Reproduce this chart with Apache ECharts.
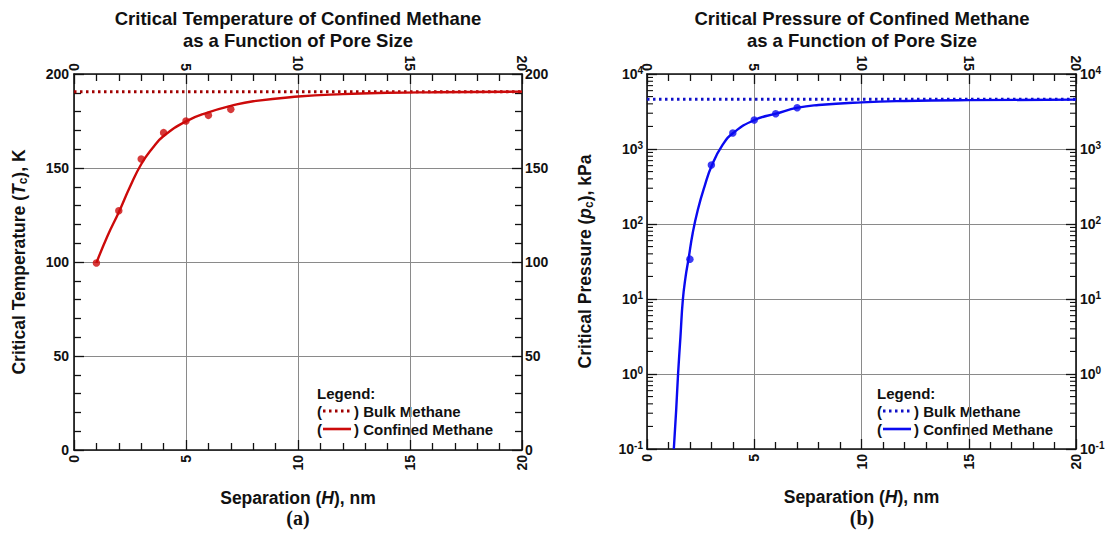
<!DOCTYPE html>
<html>
<head>
<meta charset="utf-8">
<script src="https://cdn.jsdelivr.net/npm/echarts@6/dist/echarts.min.js"></script>
<style>
  html, body { margin: 0; padding: 0; background: #fff; }
  #chart { width: 1110px; height: 533px; }
</style>
</head>
<body>
<div id="chart"></div>
<script>
// Pore separation (nm) where simulated critical points were computed
const poreH = [1, 2, 3, 4, 5, 6, 7];
const poreHp = [2, 3, 4, 5, 6, 7];

// Simulated critical temperature (K) and pressure (kPa) of confined methane
const tcConfined = [99.5, 127.3, 154.8, 168.8, 175.0, 178.0, 181.2];
const pcConfined = [34, 611, 1636, 2438, 2958, 3556];

// Bulk methane critical point
const tcBulk = 190.6;
const pcBulk = 4599;

// Fitted correlation curves (sampled along the fit)
const fitHT = [1, 1.5, 2, 2.5, 3, 3.5, 4, 5, 6, 7, 8, 10, 12, 14, 16, 20];
const fitT  = [99.5, 114, 126.5, 140, 152, 160.5, 167, 174.8, 179.6, 183, 185.5, 188, 189.3, 190, 190.3, 190.6];
const fitHP = [1.25, 1.36, 1.45, 1.56, 1.67, 1.8, 1.93, 2.13, 2.37, 2.68, 3.03, 3.53, 4.02, 5.01, 6.02, 7.03, 8, 10, 12, 15, 20];
const fitP  = [0.1, 0.33, 1.02, 3.15, 9.7, 19.9, 33.3, 75.5, 155, 316, 611, 1141, 1636, 2438, 2958, 3556, 3865, 4190, 4365, 4480, 4550];

// Axis ranges and tick spacing
const xRange = [0, 20];
const xStep = 5;
const tRange = [0, 200];
const tStep = 50;
const pRange = [0.1, 10000];

const FONT = '"Liberation Sans", Arial, Helvetica, sans-serif';
const RED = '#cc0a0a';
const RED_DARK = '#a00000';
const BLUE = '#0a0af0';
const BLUE_DARK = '#1010c8';
const GRIDC = '#8a8a8a';

// minor ticks of the log axis: 2..9 within each decade
const logMinor = [];
for (let e = -1; e < 4; e++) {
  for (let m = 2; m <= 9; m++) logMinor.push(m * Math.pow(10, e));
}

const zip = (a, b) => a.map((v, i) => [v, b[i]]);

const labelStyle = { fontFamily: FONT, fontWeight: 'bold', fontSize: 14, color: '#111' };
const axisLine = { show: true, onZero: false, lineStyle: { color: '#111', width: 1.6 } };
const majorTick = { show: true, inside: true, length: 10, lineStyle: { color: '#111', width: 1.3 } };
const minorTick = { show: true, splitNumber: 5, length: 7, lineStyle: { color: '#111', width: 1.3 } };
const splitLine = { show: true, lineStyle: { color: GRIDC, width: 1 } };

function xAxisPair(gridIndex) {
  const base = {
    type: 'value', gridIndex, min: xRange[0], max: xRange[1], interval: xStep,
    axisLine, axisTick: majorTick, minorTick
  };
  return [
    Object.assign({}, base, {
      position: 'bottom', splitLine,
      axisLabel: Object.assign({ rotate: 90, margin: 5 }, labelStyle),
      name: '{n|Separation (}{i|H}{n|), nm}',
      nameLocation: 'middle', nameGap: 39,
      nameTextStyle: {
        rich: {
          n: { fontFamily: FONT, fontWeight: 'bold', fontSize: 17.5, color: '#111' },
          i: { fontFamily: FONT, fontWeight: 'bold', fontStyle: 'italic', fontSize: 17.5, color: '#111' }
        }
      }
    }),
    Object.assign({}, base, {
      position: 'top', splitLine: { show: false },
      axisLabel: Object.assign({ rotate: 90, margin: 3 }, labelStyle)
    })
  ];
}

function yName(pre, sym, post) {
  return '{n|' + pre + '}{i|' + sym + '}{s|c}{n|' + post + '}';
}
const yNameRich = {
  n: { fontFamily: FONT, fontWeight: 'bold', fontSize: 17.5, color: '#111', lineHeight: 21 },
  i: { fontFamily: FONT, fontWeight: 'bold', fontStyle: 'italic', fontSize: 17.5, color: '#111', lineHeight: 21 },
  s: { fontFamily: FONT, fontWeight: 'bold', fontSize: 12, color: '#111', lineHeight: 8, verticalAlign: 'bottom' }
};

const powRich = {
  b: { fontFamily: FONT, fontWeight: 'bold', fontSize: 14, color: '#111', lineHeight: 18 },
  e: { fontFamily: FONT, fontWeight: 'bold', fontSize: 10, color: '#111', lineHeight: 8, verticalAlign: 'top' }
};
const powFormatter = v => '{b|10}{e|' + Math.round(Math.log10(v)) + '}';

const chart = echarts.init(document.getElementById('chart'), null, { renderer: 'svg' });

chart.setOption({
  animation: false,
  backgroundColor: '#fff',
  grid: [
    { left: 74, top: 74, width: 448, height: 376, containLabel: false },
    { left: 647, top: 74, width: 429, height: 375, containLabel: false }
  ],
  xAxis: [].concat(xAxisPair(0), xAxisPair(1)),
  yAxis: [
    {
      type: 'value', gridIndex: 0, position: 'left', min: tRange[0], max: tRange[1], interval: tStep,
      axisLine, axisTick: majorTick, minorTick, splitLine,
      axisLabel: Object.assign({ margin: 5 }, labelStyle),
      name: yName('Critical Temperature (', 'T', '), K'),
      nameLocation: 'middle', nameGap: 45, nameRotate: 90,
      nameTextStyle: { rich: yNameRich }
    },
    {
      type: 'value', gridIndex: 0, position: 'right', min: tRange[0], max: tRange[1], interval: tStep,
      axisLine, axisTick: majorTick, minorTick, splitLine: { show: false },
      axisLabel: Object.assign({ margin: 3 }, labelStyle)
    },
    {
      type: 'log', logBase: 10, gridIndex: 1, position: 'left', min: pRange[0], max: pRange[1],
      axisLine, axisTick: majorTick, minorTick: { show: false }, splitLine,
      axisLabel: { margin: 4, formatter: powFormatter, rich: powRich },
      name: yName('Critical Pressure (', 'p', '), kPa'),
      nameLocation: 'middle', nameGap: 52, nameRotate: 90,
      nameTextStyle: { rich: yNameRich }
    },
    {
      type: 'log', logBase: 10, gridIndex: 1, position: 'right', min: pRange[0], max: pRange[1],
      axisLine, axisTick: majorTick, minorTick: { show: false }, splitLine: { show: false },
      axisLabel: { margin: 4, formatter: powFormatter, rich: powRich }
    }
  ],
  series: [
    {
      name: 'Bulk Methane', type: 'line', xAxisIndex: 0, yAxisIndex: 0,
      data: [[xRange[0], tcBulk], [xRange[1], tcBulk]], symbol: 'none', z: 3,
      lineStyle: { color: RED_DARK, width: 3, type: [2.5, 3.5] }
    },
    {
      name: 'Confined Methane', type: 'line', xAxisIndex: 0, yAxisIndex: 0,
      data: zip(fitHT, fitT), symbol: 'none', smooth: 0.5, z: 4,
      lineStyle: { color: RED, width: 2.4 }
    },
    {
      type: 'scatter', xAxisIndex: 0, yAxisIndex: 0, data: zip(poreH, tcConfined),
      symbol: 'circle', symbolSize: 7.5, itemStyle: { color: RED }, z: 5
    },
    {
      name: 'Bulk Methane', type: 'line', xAxisIndex: 2, yAxisIndex: 2,
      data: [[xRange[0], pcBulk], [xRange[1], pcBulk]], symbol: 'none', z: 3,
      lineStyle: { color: BLUE_DARK, width: 3, type: [2.5, 3.5] }
    },
    {
      name: 'Confined Methane', type: 'line', xAxisIndex: 2, yAxisIndex: 2,
      data: zip(fitHP, fitP), symbol: 'none', smooth: 0.5, z: 4,
      lineStyle: { color: BLUE, width: 2.4 }
    },
    {
      type: 'scatter', xAxisIndex: 2, yAxisIndex: 2, data: zip(poreHp, pcConfined),
      symbol: 'circle', symbolSize: 7.5, itemStyle: { color: BLUE }, z: 5
    },
    {
      // log-spaced minor ticks on both vertical edges of the pressure panel
      type: 'custom', xAxisIndex: 2, yAxisIndex: 2, silent: true, z: 6,
      data: logMinor.map(v => [xRange[0], v]),
      renderItem: function (params, api) {
        const v = api.value(1);
        const l = api.coord([xRange[0], v]);
        const r = api.coord([xRange[1], v]);
        const len = 6;
        return {
          type: 'group',
          children: [
            { type: 'line', shape: { x1: l[0], y1: l[1], x2: l[0] + len, y2: l[1] }, style: { stroke: '#111', lineWidth: 1.1 } },
            { type: 'line', shape: { x1: r[0], y1: r[1], x2: r[0] - len, y2: r[1] }, style: { stroke: '#111', lineWidth: 1.1 } }
          ]
        };
      }
    }
  ],
  graphic: [
    // panel titles
    { type: 'text', x: 298, y: 7, style: { text: 'Critical Temperature of Confined Methane\nas a Function of Pore Size', textAlign: 'center', textVerticalAlign: 'top', fontFamily: FONT, fontWeight: 'bold', fontSize: 18.5, lineHeight: 22, fill: '#111' } },
    { type: 'text', x: 862, y: 7, style: { text: 'Critical Pressure of Confined Methane\nas a Function of Pore Size', textAlign: 'center', textVerticalAlign: 'top', fontFamily: FONT, fontWeight: 'bold', fontSize: 18.5, lineHeight: 22, fill: '#111' } },
    // panel captions
    { type: 'text', x: 298, y: 518, style: { text: '(a)', textAlign: 'center', textVerticalAlign: 'middle', fontFamily: '"Liberation Serif", "Times New Roman", serif', fontWeight: 'bold', fontSize: 20, fill: '#111' } },
    { type: 'text', x: 862, y: 518, style: { text: '(b)', textAlign: 'center', textVerticalAlign: 'middle', fontFamily: '"Liberation Serif", "Times New Roman", serif', fontWeight: 'bold', fontSize: 20, fill: '#111' } },

    // legend, temperature panel
    { type: 'text', x: 317, y: 393, style: { text: 'Legend:', textVerticalAlign: 'middle', fontFamily: FONT, fontWeight: 'bold', fontSize: 15, fill: '#111' } },
    { type: 'text', x: 317, y: 411, style: { text: '(', textVerticalAlign: 'middle', fontFamily: FONT, fontWeight: 'bold', fontSize: 15, fill: '#111' } },
    { type: 'line', shape: { x1: 323, y1: 411, x2: 350, y2: 411 }, style: { stroke: RED_DARK, lineWidth: 3, lineDash: [2.5, 3.5] } },
    { type: 'text', x: 354, y: 411, style: { text: ') Bulk Methane', textVerticalAlign: 'middle', fontFamily: FONT, fontWeight: 'bold', fontSize: 15, fill: '#111' } },
    { type: 'text', x: 317, y: 429, style: { text: '(', textVerticalAlign: 'middle', fontFamily: FONT, fontWeight: 'bold', fontSize: 15, fill: '#111' } },
    { type: 'line', shape: { x1: 323, y1: 429, x2: 351, y2: 429 }, style: { stroke: RED, lineWidth: 2.6 } },
    { type: 'text', x: 354, y: 429, style: { text: ') Confined Methane', textVerticalAlign: 'middle', fontFamily: FONT, fontWeight: 'bold', fontSize: 15, fill: '#111' } },

    // legend, pressure panel
    { type: 'text', x: 877, y: 393, style: { text: 'Legend:', textVerticalAlign: 'middle', fontFamily: FONT, fontWeight: 'bold', fontSize: 15, fill: '#111' } },
    { type: 'text', x: 877, y: 411, style: { text: '(', textVerticalAlign: 'middle', fontFamily: FONT, fontWeight: 'bold', fontSize: 15, fill: '#111' } },
    { type: 'line', shape: { x1: 883, y1: 411, x2: 911, y2: 411 }, style: { stroke: BLUE_DARK, lineWidth: 3, lineDash: [2.5, 3.5] } },
    { type: 'text', x: 914, y: 411, style: { text: ') Bulk Methane', textVerticalAlign: 'middle', fontFamily: FONT, fontWeight: 'bold', fontSize: 15, fill: '#111' } },
    { type: 'text', x: 877, y: 429, style: { text: '(', textVerticalAlign: 'middle', fontFamily: FONT, fontWeight: 'bold', fontSize: 15, fill: '#111' } },
    { type: 'line', shape: { x1: 883, y1: 429, x2: 911, y2: 429 }, style: { stroke: BLUE, lineWidth: 2.6 } },
    { type: 'text', x: 914, y: 429, style: { text: ') Confined Methane', textVerticalAlign: 'middle', fontFamily: FONT, fontWeight: 'bold', fontSize: 15, fill: '#111' } }
  ]
});
</script>
</body>
</html>
